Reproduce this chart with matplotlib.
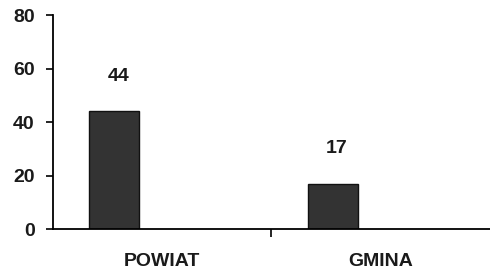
import numpy as np
import matplotlib.pyplot as plt

plt.rcParams['font.family'] = ['Liberation Sans', 'DejaVu Sans']

categories = ['POWIAT', 'GMINA']
values = [44, 17]
yticks = [0, 20, 40, 60, 80]

fig = plt.figure(figsize=(4.9, 2.73), dpi=100)
ax = fig.add_axes([0.108, 0.161, 0.892, 0.784])

x = np.arange(len(categories))
bars = ax.bar(x - 0.22, values, width=0.23, color='#333333', edgecolor='#111111', linewidth=1)

for b, v in zip(bars, values):
    ax.annotate(str(v), (b.get_x() + b.get_width() / 2, v), xytext=(3, 19),
                textcoords='offset points', ha='center', va='bottom',
                fontsize=14, fontweight='bold', color='#1a1a1a')

ax.set_xlim(-0.5, 1.5)
ax.set_ylim(0, 80)
ax.set_yticks(yticks)
ax.set_xticks(x)
ax.set_xticklabels(categories)
ax.set_xticks([0.5], minor=True)
ax.tick_params(axis='x', which='major', length=0, pad=17, labelsize=14)
ax.tick_params(axis='x', which='minor', length=6, width=1.2, direction='out')
ax.tick_params(axis='y', length=5, width=1.2, direction='out', labelsize=14, pad=8)
for lab in ax.get_xticklabels() + ax.get_yticklabels():
    lab.set_fontweight('bold')
    lab.set_color('#1a1a1a')

ax.spines['top'].set_visible(False)
ax.spines['right'].set_visible(False)
ax.spines['left'].set_linewidth(1.3)
ax.spines['bottom'].set_linewidth(1.3)

fig.savefig('out.png', dpi=100)
